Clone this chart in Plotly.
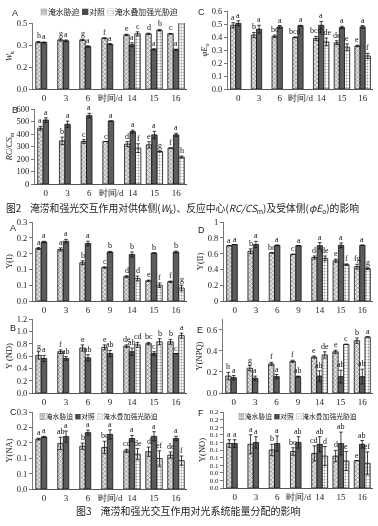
import plotly.graph_objects as go

# ---------------- data ----------------
days = ["0", "3", "6", "9", "14", "15", "16"]
x_title = "时间/d"
series_names = ["淹水胁迫", "对照", "淹水叠加强光胁迫"]
N = None

# Fig.2 A  W_k
wk_flood = [0.355, 0.372, 0.372, 0.385, 0.410, 0.418, 0.418]
wk_ck = [0.352, 0.365, 0.322, 0.340, 0.335, 0.300, 0.298]
wk_fl = [N, N, N, N, 0.418, 0.445, 0.505]
wk_err = [[0.005, 0.008, 0.005, 0.003, 0.005, 0.005, 0.003],
          [0.004, 0.006, 0.005, 0.004, 0.015, 0.005, 0.004],
          [0, 0, 0, 0, 0.015, 0.006, 0.004]]
wk_let = [["h", "g", "g", "f", "e", "d", "c"],
          ["a", "a", "a", "a", "a", "a", "a"],
          ["", "", "", "", "c", "b", "a"]]

# Fig.2 C  phiE_o
pe_flood = [0.490, 0.415, 0.405, 0.397, 0.389, 0.356, 0.331]
pe_ck = [0.505, 0.460, 0.478, 0.487, 0.490, 0.473, 0.478]
pe_fl = [N, N, N, N, 0.362, 0.322, 0.254]
pe_err = [[0.02, 0.02, 0.01, 0.003, 0.015, 0.015, 0.005],
          [0.02, 0.03, 0.01, 0.003, 0.03, 0.01, 0.01],
          [0, 0, 0, 0, 0.03, 0.025, 0.02]]
pe_let = [["a", "b", "bc", "bcd", "bcd", "de", "e"],
          ["a", "a", "a", "a", "a", "a", "a"],
          ["", "", "", "", "cde", "e", "f"]]

# Fig.2 B  RC/CS_m
rc_flood = [446, 345, 340, 340, 319, 313, 287]
rc_ck = [512, 478, 547, 504, 419, 393, 393]
rc_fl = [N, N, N, N, 287, 260, 215]
rc_err = [[15, 30, 15, 0, 20, 25, 0],
          [18, 25, 18, 0, 12, 28, 12],
          [0, 0, 0, 0, 35, 5, 8]]
rc_let = [["a", "b", "c", "c", "d", "e", "f"],
          ["a", "a", "a", "a", "a", "a", "a"],
          ["", "", "", "", "f", "g", "h"]]

# Fig.3 A  Y(I)
yi_flood = [0.166, 0.163, 0.121, 0.106, 0.077, 0.064, 0.061]
yi_ck = [0.187, 0.189, 0.182, 0.155, 0.147, 0.152, 0.155]
yi_fl = [N, N, N, N, 0.071, 0.050, 0.041]
yi_err = [[0.003, 0.005, 0.006, 0.002, 0.003, 0.002, 0.002],
          [0.002, 0.006, 0.007, 0.002, 0.008, 0.0, 0.003],
          [0, 0, 0, 0, 0.008, 0.007, 0.009]]
yi_let = [["a", "a", "b", "c", "d", "e", "f"],
          ["a", "a", "a", "b", "b", "b", "b"],
          ["", "", "", "", "d", "f", "g"]]

# Fig.3 D  Y(II)
yii_flood = [0.700, 0.630, 0.610, 0.590, 0.550, 0.510, 0.435]
yii_ck = [0.715, 0.715, 0.705, 0.700, 0.700, 0.705, 0.705]
yii_fl = [N, N, N, N, 0.540, 0.460, 0.410]
yii_err = [[0, 0.03, 0, 0, 0.02, 0.02, 0.03],
           [0, 0.04, 0, 0, 0.04, 0.03, 0],
           [0, 0, 0, 0, 0.03, 0.01, 0.01]]
yii_let = [["a", "b", "bc", "c", "d", "e", "fg"],
           ["a", "a", "a", "a", "a", "a", "a"],
           ["", "", "", "", "de", "f", "g"]]

# Fig.3 B  Y(ND)
nd_flood = [0.61, 0.67, 0.73, 0.74, 0.76, 0.80, 0.83]
nd_ck = [0.56, 0.56, 0.57, 0.64, 0.67, 0.64, 0.64]
nd_fl = [N, N, N, N, 0.78, 0.83, 0.93]
nd_err = [[0.06, 0.03, 0.05, 0.04, 0.02, 0.02, 0.04],
          [0.05, 0.03, 0.05, 0.05, 0.06, 0.03, 0.0],
          [0, 0, 0, 0, 0.04, 0.05, 0.04]]
nd_let = [["g", "f", "e", "e", "de", "bc", "b"],
          ["a", "ab", "ab", "ab", "ab", "c", "c"],
          ["", "", "", "", "cd", "b", "a"]]

# Fig.3 E  Y(NPQ)
npq_flood = [0.160, 0.235, 0.275, 0.300, 0.340, 0.390, 0.495]
npq_ck = [0.145, 0.140, 0.155, 0.155, 0.160, 0.155, 0.155]
npq_fl = [N, N, N, N, 0.360, 0.460, 0.530]
npq_err = [[0.035, 0.025, 0.015, 0.01, 0.01, 0.015, 0.025],
           [0.02, 0.02, 0.02, 0.005, 0.05, 0.06, 0.07],
           [0, 0, 0, 0, 0.03, 0.0, 0.0]]
npq_let = [["h", "g", "f", "f", "e", "e", "b"],
           ["a", "a", "a", "ab", "ab", "ab", "ab"],
           ["", "", "", "", "de", "c", "a"]]

# Fig.3 C  Y(NA)
na_flood = [0.162, 0.148, 0.139, 0.135, 0.124, 0.121, 0.110]
na_ck = [0.169, 0.170, 0.183, 0.177, 0.164, 0.171, 0.164]
na_fl = [N, N, N, N, 0.113, 0.099, 0.092]
na_err = [[0.003, 0.02, 0.01, 0.02, 0.005, 0.015, 0.01],
          [0.002, 0.018, 0.008, 0.015, 0.01, 0.015, 0.007],
          [0, 0, 0, 0, 0.018, 0.025, 0.015]]
na_let = [["a", "ab", "b", "bc", "cd", "d", "de"],
          ["a", "a", "a", "a", "a", "a", "a"],
          ["", "", "", "", "de", "ef", "f"]]

# Fig.3 F  Y(NO)
no_flood = [0.117, 0.115, 0.100, 0.096, 0.091, 0.084, 0.072]
no_ck = [0.117, 0.120, 0.117, 0.120, 0.115, 0.117, 0.115]
no_fl = [N, N, N, N, 0.084, 0.071, 0.065]
no_err = [[0.01, 0.025, 0.015, 0.01, 0.02, 0.015, 0.0],
          [0.01, 0.015, 0.02, 0.015, 0.02, 0.03, 0.01],
          [0, 0, 0, 0, 0.025, 0.025, 0.03]]
no_let = [["a", "a", "b", "bc", "cd", "d", "e"],
          ["a", "a", "a", "ab", "ab", "ab", "ab"],
          ["", "", "", "", "d", "e", "ef"]]

# y tick labels (as printed in the original, rounded to one decimal)
t_wk_vals = [0, 1 / 6, 2 / 6, 0.5]
t_wk_text = ["0.0", "0.2", "0.3", "0.5"]
t_pe_vals = [0, 0.1, 0.2, 0.3, 0.4, 0.5, 0.6]
t_pe_text = ["0.0", "0.1", "0.2", "0.3", "0.4", "0.5", "0.6"]
t_rc_vals = [0, 100, 200, 300, 400, 500, 600]
t_rc_text = ["0", "100", "200", "300", "400", "500", "600"]
t_q_vals = [0, 0.05, 0.10, 0.15, 0.20, 0.25]
t_q_text = ["0.0", "0.1", "0.1", "0.2", "0.2", "0.3"]
t_ii_vals = [0, 0.2, 0.4, 0.6, 0.8, 1.0]
t_ii_text = ["0", "0.2", "0.4", "0.6", "0.8", "1"]
t_nd_vals = [0, 0.2, 0.4, 0.6, 0.8, 1.0, 1.2]
t_nd_text = ["0.0", "0.2", "0.4", "0.6", "0.8", "1.0", "1.2"]
t_npq_vals = [0, 0.2, 0.4, 0.6]
t_npq_text = ["0.0", "0.2", "0.4", "0.6"]
t_no_vals = [0, 0.02, 0.04, 0.06, 0.08, 0.10, 0.12, 0.14, 0.16, 0.18, 0.20]
t_no_text = ["0.0", "0.0", "0.0", "0.1", "0.1", "0.1", "0.1", "0.1", "0.2", "0.2", "0.2"]

cap2 = "图2    淹涝和强光交互作用对供体侧(<i>W</i><sub>k</sub>)、反应中心(<i>RC/CS</i><sub>m</sub>)及受体侧(<i>φE</i><sub>o</sub>)的影响"
cap3 = "图3    淹涝和强光交互作用对光系统能量分配的影响"

# ---------------- layout helpers ----------------
W, H = 378, 526
BARGAP = 0.25
SERIF = "Liberation Serif"
CJK = "Noto Sans CJK SC"
INK = "#111111"

styles = [
    dict(color="#d0d0d0",
         pattern=dict(shape="x", fgcolor="#6a6a6a", bgcolor="#e4e4e4", size=3, solidity=0.3),
         line=dict(color=INK, width=0.8)),
    dict(color="#5c5c5c", line=dict(color=INK, width=0.8)),
    dict(color="#f4f4f4",
         pattern=dict(shape=".", fgcolor="#9a9a9a", bgcolor="#ffffff", size=3, solidity=0.3),
         line=dict(color=INK, width=0.8)),
]

panels = [
    ([wk_flood, wk_ck, wk_fl], wk_err, wk_let, "<i>W</i><sub>k</sub>", t_wk_vals, t_wk_text, [0, 0.5],
     (33, 187, 23, 89), "A", (15, 13), True),
    ([pe_flood, pe_ck, pe_fl], pe_err, pe_let, "<i>φE</i><sub>o</sub>", t_pe_vals, t_pe_text, [0, 0.6],
     (228, 373, 11, 89), "C", (201, 12), True),
    ([rc_flood, rc_ck, rc_fl], rc_err, rc_let, "<i>RC/CS</i><sub>m</sub>", t_rc_vals, t_rc_text, [0, 600],
     (35, 187, 109, 184), "B", (15, 110), True),
    ([yi_flood, yi_ck, yi_fl], yi_err, yi_let, "Y(I)", t_q_vals, t_q_text, [0, 0.25],
     (33, 187, 222, 301), "A", (13, 228), False),
    ([yii_flood, yii_ck, yii_fl], yii_err, yii_let, "Y(II)", t_ii_vals, t_ii_text, [0, 1.0],
     (224, 373, 222, 301), "D", (201, 230), False),
    ([nd_flood, nd_ck, nd_fl], nd_err, nd_let, "Y (ND)", t_nd_vals, t_nd_text, [0, 1.2],
     (33, 187, 319, 393), "B", (13, 328), False),
    ([npq_flood, npq_ck, npq_fl], npq_err, npq_let, "Y(NPQ)", t_npq_vals, t_npq_text, [0, 0.7],
     (223, 373, 319, 393), "E", (200, 330), False),
    ([na_flood, na_ck, na_fl], na_err, na_let, "Y(NA)", t_q_vals, t_q_text, [0, 0.25],
     (33, 187, 412, 489), "C", (13, 412), True),
    ([no_flood, no_ck, no_fl], no_err, no_let, "Y(NO)", t_no_vals, t_no_text, [0, 0.2],
     (224, 373, 412, 488), "F", (201, 413), True),
]

fig = go.Figure()
annotations = []
layout_axes = {}
w = (1 - BARGAP) / 3

for k, (vals, errs, lets, ytitle, tv, tt, yr, box, lab, labpos, xt) in enumerate(panels):
    n = k + 1
    xa = "x" if n == 1 else f"x{n}"
    ya = "y" if n == 1 else f"y{n}"
    for s in range(3):
        fig.add_trace(go.Bar(
            x=days, y=vals[s], name=series_names[s], marker=styles[s],
            error_y=dict(type="data", array=errs[s], color=INK, thickness=0.8, width=1.8, visible=True),
            xaxis=xa, yaxis=ya, showlegend=False, hoverinfo="skip",
        ))
        for i, v in enumerate(vals[s]):
            if v is None or not lets[s][i]:
                continue
            annotations.append(dict(
                x=i + (s - 1) * w, y=v + errs[s][i], xref=xa, yref=ya,
                text=lets[s][i], showarrow=False, yanchor="bottom", yshift=-1,
                font=dict(family=SERIF, size=8, color=INK)))
    x0, x1, y0, y1 = box
    ticklabels = [x_title if (xt and d == "9") else d for d in days]
    layout_axes["xaxis" if n == 1 else f"xaxis{n}"] = dict(
        domain=[x0 / W, x1 / W], anchor=ya, type="category",
        tickmode="array", tickvals=days, ticktext=ticklabels,
        showline=True, linecolor="#555", linewidth=1, ticks="",
        showgrid=False, zeroline=False,
        tickfont=dict(family=SERIF, size=9, color="#222"),
    )
    layout_axes["yaxis" if n == 1 else f"yaxis{n}"] = dict(
        domain=[1 - y1 / H, 1 - y0 / H], anchor=xa, range=yr,
        tickmode="array", tickvals=tv, ticktext=tt,
        showline=True, linecolor="#777", linewidth=1, ticks="outside", ticklen=3,
        tickcolor="#777", showgrid=False, zeroline=False,
        tickfont=dict(family=SERIF, size=7 if n == 9 else 8.5, color="#222"),
        title=dict(text=ytitle, font=dict(family=SERIF, size=8.5, color="#222"), standoff=2),
    )
    annotations.append(dict(x=labpos[0] / W, y=1 - labpos[1] / H, xref="paper", yref="paper",
                            text=lab, showarrow=False, xanchor="center", yanchor="middle",
                            font=dict(family="Liberation Sans", size=9, color="#222")))


def legend_text():
    return ("<span style='color:#8a8a8a'>▩</span>" + series_names[0] + " "
            "<span style='color:#4a4a4a'>■</span>" + series_names[1] + " "
            "<span style='color:#9a9a9a'>▤</span>" + series_names[2])


for (lx, ly, fs) in [(38, 12, 7.9), (37, 416, 6.8), (236, 416, 6.8)]:
    annotations.append(dict(x=lx / W, y=1 - ly / H, xref="paper", yref="paper",
                            text=legend_text(), showarrow=False, xanchor="left", yanchor="middle",
                            bgcolor="rgba(255,255,255,0)",
                            font=dict(family=CJK, size=fs, color="#222")))

annotations.append(dict(x=182 / W, y=1 - 208 / H, xref="paper", yref="paper", text=cap2,
                        showarrow=False, xanchor="center", yanchor="middle",
                        font=dict(family=CJK, size=9.8, color="#222")))
annotations.append(dict(x=188 / W, y=1 - 510 / H, xref="paper", yref="paper", text=cap3,
                        showarrow=False, xanchor="center", yanchor="middle",
                        font=dict(family=CJK, size=10, color="#222")))

fig.update_layout(
    template="none",
    colorway=[INK, INK, INK],
    font=dict(family=SERIF, color=INK),
    width=W, height=H, margin=dict(l=0, r=0, t=0, b=0),
    paper_bgcolor="white", plot_bgcolor="white",
    barmode="group", bargap=BARGAP, bargroupgap=0,
    showlegend=False, annotations=annotations, **layout_axes,
)

# page setup: no body margin (figure fills the window exactly) and greyscale
# rendering of the small text, as in the printed original
page_js = ("document.body.style.margin='0';"
           "document.body.style.overflow='hidden';"
           "document.querySelectorAll('.plot-container').forEach(function(e){"
           "e.style.filter='grayscale(1)';});")

fig.write_html("out.html", post_script=page_js,
               config={"displayModeBar": False, "staticPlot": True})
